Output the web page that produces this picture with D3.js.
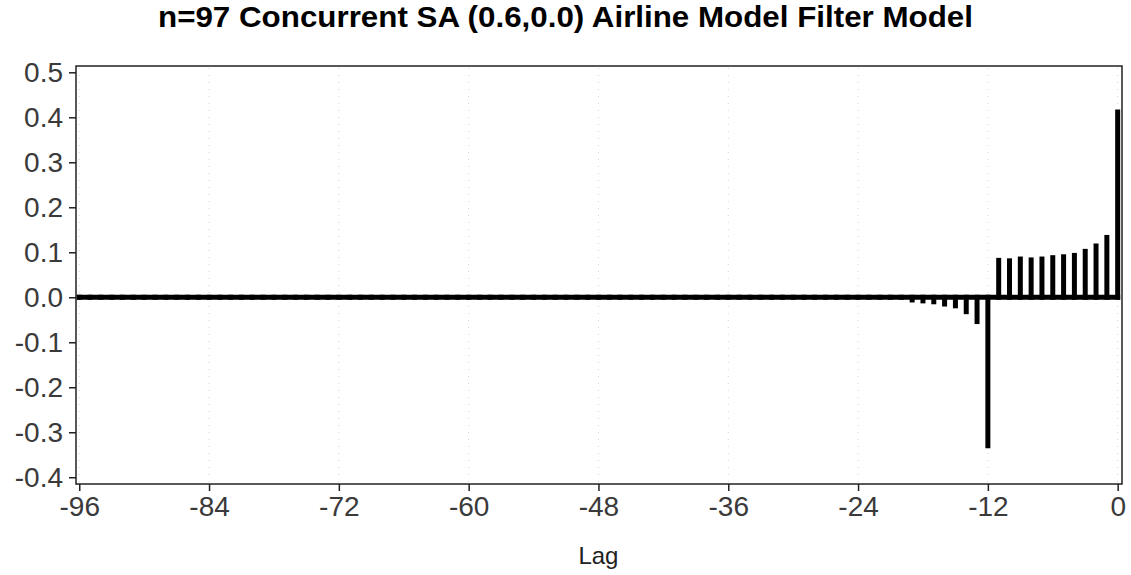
<!DOCTYPE html>
<html>
<head>
<meta charset="utf-8">
<script src="https://cdn.jsdelivr.net/npm/d3@7"></script>
<style>
  body { margin: 0; background: #fff; }
  svg { display: block; font-family: "Liberation Sans", Arial, sans-serif; }
</style>
</head>
<body>
<div id="chart"></div>
<script>
// filter weights, lag -96 .. 0
var lags = [
  -96, -95, -94, -93, -92, -91, -90, -89, -88, -87, -86, -85, -84, -83, -82, -81,
  -80, -79, -78, -77, -76, -75, -74, -73, -72, -71, -70, -69, -68, -67, -66, -65,
  -64, -63, -62, -61, -60, -59, -58, -57, -56, -55, -54, -53, -52, -51, -50, -49,
  -48, -47, -46, -45, -44, -43, -42, -41, -40, -39, -38, -37, -36, -35, -34, -33,
  -32, -31, -30, -29, -28, -27, -26, -25, -24, -23, -22, -21, -20, -19, -18, -17,
  -16, -15, -14, -13, -12, -11, -10, -9, -8, -7, -6, -5, -4, -3, -2, -1, 0
];
var weights = [
  0, 0, 0, 0, 0, 0, 0, 0, 0, 0, 0, 0, 0, 0, 0, 0,
  0, 0, 0, 0, 0, 0, 0, 0, 0, 0, 0, 0, 0, 0, 0, 0,
  0, 0, 0, 0, 0, 0, 0, 0, 0, 0, 0, 0, 0, 0, 0, 0,
  0, 0, 0, 0, 0, 0, 0, 0, 0, 0, 0, 0, 0, 0, 0, 0,
  0, 0, 0, 0, 0, 0, 0, 0, 0, 0, 0, 0, 0, -0.006, -0.008, -0.010,
  -0.015, -0.019, -0.032, -0.054, -0.330, 0.082, 0.081, 0.085, 0.083, 0.085, 0.088, 0.090, 0.093, 0.102, 0.114, 0.133, 0.412
];
var xTicks = [-96, -84, -72, -60, -48, -36, -24, -12, 0];
var yTicks = [-0.4, -0.3, -0.2, -0.1, 0.0, 0.1, 0.2, 0.3, 0.4, 0.5];
var title = "n=97 Concurrent SA (0.6,0.0) Airline Model Filter Model";

var width = 1131, height = 575;
var margin = {top: 66, right: 9, bottom: 91, left: 76};

var svg = d3.select("#chart").append("svg")
  .attr("width", width)
  .attr("height", height);

var x = d3.scaleLinear()
  .domain([-96.3, 0.4])
  .range([margin.left, width - margin.right]);

var y = d3.scaleLinear()
  .domain([-0.415, 0.514])
  .range([height - margin.bottom, margin.top]);

// vertical dotted grid
svg.append("g")
  .selectAll("line")
  .data(xTicks)
  .enter()
  .append("line")
  .attr("x1", function(d) { return x(d); })
  .attr("x2", function(d) { return x(d); })
  .attr("y1", margin.top + 2)
  .attr("y2", height - margin.bottom - 2)
  .attr("stroke", "#d4d4d4")
  .attr("stroke-width", 1)
  .attr("stroke-dasharray", "1,6");

// baseline joining the needles
svg.append("line")
  .attr("x1", x(lags[0]))
  .attr("x2", x(lags[lags.length - 1]))
  .attr("y1", y(0))
  .attr("y2", y(0))
  .attr("stroke", "#000")
  .attr("stroke-width", 5)
  .attr("stroke-linecap", "square");

// needles
svg.append("g")
  .selectAll("line")
  .data(weights)
  .enter()
  .append("line")
  .attr("x1", function(d, i) { return x(lags[i]); })
  .attr("x2", function(d, i) { return x(lags[i]); })
  .attr("y1", y(0))
  .attr("y2", function(d) { return y(d); })
  .attr("stroke", "#000")
  .attr("stroke-width", 5)
  .attr("stroke-linecap", "square");

// axes
var xAxis = svg.append("g")
  .attr("transform", "translate(0," + (height - margin.bottom) + ")")
  .call(d3.axisBottom(x).tickValues(xTicks).tickSize(7).tickPadding(5)
    .tickFormat(function(d) { return String(d); }));

var yAxis = svg.append("g")
  .attr("transform", "translate(" + margin.left + ",0)")
  .call(d3.axisLeft(y).tickValues(yTicks).tickSize(7).tickPadding(6)
    .tickFormat(function(d) { return d.toFixed(1); }));

[xAxis, yAxis].forEach(function(a) {
  a.select(".domain").remove();
  a.selectAll(".tick line").attr("stroke", "#222").attr("stroke-width", 1.5);
  a.selectAll(".tick text")
    .attr("fill", "#3a3a3a")
    .style("font-size", "28px")
    .style("font-family", "'Liberation Sans', Arial, sans-serif");
});

// frame
svg.append("rect")
  .attr("x", margin.left)
  .attr("y", margin.top)
  .attr("width", width - margin.left - margin.right)
  .attr("height", height - margin.top - margin.bottom)
  .attr("fill", "none")
  .attr("stroke", "#222")
  .attr("stroke-width", 1.5);

// title + axis label
svg.append("text")
  .attr("x", 565.5)
  .attr("y", 27)
  .attr("text-anchor", "middle")
  .attr("textLength", 815)
  .attr("lengthAdjust", "spacingAndGlyphs")
  .style("font-size", "30px")
  .style("font-weight", "bold")
  .attr("fill", "#000")
  .text(title);

svg.append("text")
  .attr("x", x(-48))
  .attr("y", 564)
  .attr("text-anchor", "middle")
  .style("font-size", "24px")
  .attr("fill", "#222")
  .text("Lag");
</script>
</body>
</html>
